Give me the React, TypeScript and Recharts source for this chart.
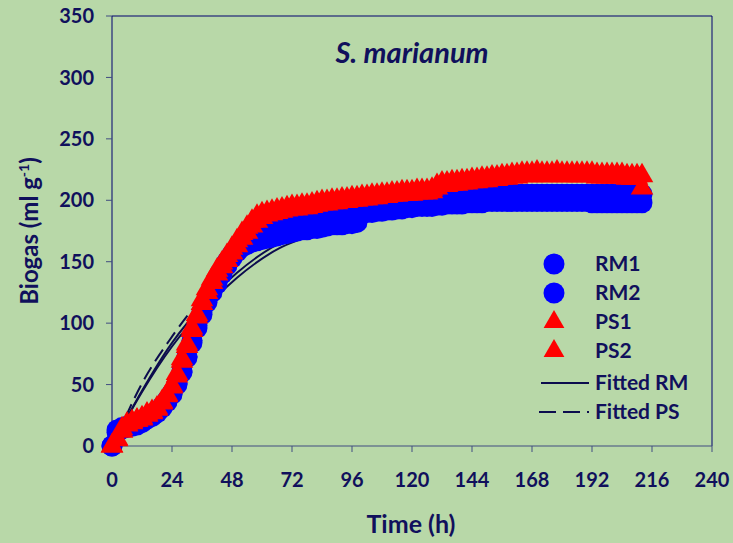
import React from 'react';
import { ComposedChart, Scatter, Line, XAxis, YAxis, ReferenceLine, Customized } from 'recharts';

// Measurement times (h), every 2 h
const hours = [
  0, 2, 4, 6, 8, 10, 12, 14, 16, 18, 20, 22, 24, 26, 28, 30, 32, 34, 36, 38, 40, 42, 44, 46, 48, 50, 52, 54, 56, 58, 60,
  62, 64, 66, 68, 70, 72, 74, 76, 78, 80,
  82, 84, 86, 88, 90, 92, 94, 96, 98, 100,
  102, 104, 106, 108, 110, 112, 114, 116, 118, 120,
  122, 124, 126, 128, 130, 132, 134, 136, 138, 140,
  142, 144, 146, 148, 150, 152, 154, 156, 158, 160,
  162, 164, 166, 168, 170, 172, 174, 176, 178, 180,
  182, 184, 186, 188, 190, 192, 194, 196, 198, 200,
  202, 204, 206, 208, 210, 212,
];

// Cumulative biogas (ml g-1)
const rm1 = [
  0, 13, 15, 16, 17, 18, 20, 23, 25, 28, 32, 37, 43, 51, 61, 73, 86, 98, 109, 119, 128, 135, 143, 150, 156, 161, 165, 168, 170, 172, 173,
  175, 176, 176, 177, 178, 179, 180, 181, 182, 183,
  184, 185, 186, 187, 188, 189, 189, 190, 191, 192,
  192, 193, 193, 194, 194, 195, 195, 196, 196, 197,
  197, 198, 198, 199, 199, 200, 200, 201, 201, 202,
  202, 203, 203, 203, 203, 204, 204, 204, 204, 205,
  205, 205, 205, 205, 205, 205, 205, 205, 205, 205,
  205, 205, 205, 205, 205, 205, 205, 205, 205, 205,
  205, 205, 205, 205, 205, 205,
];
const rm2 = [
  0, 11, 14, 15, 16, 17, 19, 22, 24, 27, 31, 36, 42, 50, 60, 72, 84, 96, 107, 117, 125, 132, 140, 147, 153, 158, 162, 164, 166, 167, 168,
  169, 170, 171, 172, 173, 174, 175, 176, 176, 177,
  177, 178, 179, 180, 180, 180, 181, 181, 182, 189,
  190, 190, 191, 191, 192, 192, 193, 193, 194, 194,
  195, 195, 195, 195, 196, 196, 197, 197, 197, 197,
  198, 198, 198, 198, 199, 199, 199, 199, 199, 199,
  199, 199, 199, 199, 199, 199, 199, 199, 199, 199,
  199, 199, 199, 199, 199, 198, 198, 198, 198, 198,
  198, 198, 198, 198, 198, 198,
];
const ps1 = [
  0, 6, 14, 18, 20, 21, 23, 26, 28, 31, 36, 42, 49, 59, 71, 83, 96, 107, 119, 128, 136, 143, 149, 155, 161, 167, 173, 178, 183, 187, 189,
  190, 191, 192, 193, 194, 195, 195, 196, 196, 197,
  198, 199, 199, 200, 200, 201, 201, 202, 202, 203,
  203, 204, 204, 205, 205, 206, 206, 207, 207, 207,
  208, 208, 208, 209, 212, 214, 214, 215, 215, 216,
  216, 217, 217, 218, 218, 219, 219, 220, 220, 221,
  221, 222, 222, 222, 223, 222, 222, 222, 223, 222,
  222, 222, 222, 222, 222, 222, 221, 221, 221, 221,
  221, 221, 220, 220, 220, 220,
];
const ps2 = [
  0, 5, 12, 17, 19, 21, 22, 25, 27, 30, 35, 41, 48, 57, 69, 81, 94, 105, 116, 125, 133, 140, 146, 151, 157, 163, 169, 174, 179, 183, 186,
  188, 189, 190, 191, 192, 193, 193, 194, 194, 195,
  196, 197, 197, 198, 198, 199, 199, 200, 200, 201,
  201, 202, 202, 203, 203, 204, 204, 205, 205, 205,
  206, 206, 206, 207, 210, 212, 212, 213, 213, 214,
  214, 215, 215, 216, 216, 217, 217, 218, 218, 219,
  219, 220, 220, 220, 221, 220, 220, 220, 221, 220,
  220, 220, 220, 220, 220, 220, 219, 219, 219, 219,
  219, 219, 218, 218, 218, 210,
];

// Fitted curves (read at selected times)
const fitHours = [2, 12, 24, 37, 50, 67, 75, 87, 100, 115, 130, 147, 170, 190, 212];
const fitRm1 = [8, 45, 84, 116, 141, 165, 171.5, 180.5, 188, 195, 200, 204, 207, 208.5, 209.5];
const fitRm2 = [8, 44, 81, 112, 137, 161, 168, 177, 185, 192, 197, 201, 204.5, 206, 207.5];
const fitPsHours = [2, 12, 24, 37, 47, 67, 75, 87, 100, 115, 130, 147, 170, 190, 212];
const fitPs = [8, 51, 89, 123, 144, 176, 184, 193, 201, 208.5, 213.5, 218.5, 222, 224.5, 226];

const xTicks = [0, 24, 48, 72, 96, 120, 144, 168, 192, 216, 240];
const yTicks = [0, 50, 100, 150, 200, 250, 300, 350];

const legendItems = [
  { label: 'RM1', kind: 'circle' },
  { label: 'RM2', kind: 'circle' },
  { label: 'PS1', kind: 'triangle' },
  { label: 'PS2', kind: 'triangle' },
  { label: 'Fitted RM', kind: 'solid' },
  { label: 'Fitted PS', kind: 'dashed' },
];

const pair = (ts: number[], vs: number[]) => ts.map((t, i) => ({ t, v: vs[i] }));

const NAVY = '#10105c';
const LINE = '#0c0c4e';
const BLUE = '#0000ff';
const RED = '#ff0000';
const FONT = 'Lato, "Open Sans", sans-serif';

const Circle = (p: any) => <circle cx={p.cx} cy={p.cy} r={10.5} fill={BLUE} />;
const Tri = (p: any) => (
  <polygon
    points={`${p.cx},${p.cy - 13} ${p.cx - 11.3},${p.cy + 6.5} ${p.cx + 11.3},${p.cy + 6.5}`}
    fill={RED}
  />
);

const Decorations = () => (
  <g fontFamily={FONT} fontWeight={700} fill={NAVY}>
    <text x={412} y={63} textAnchor="middle" fontSize={29} fontStyle="italic">S. marianum</text>
    <text x={411} y={533} textAnchor="middle" fontSize={25}>Time (h)</text>
    <text transform="translate(38,231) rotate(-90)" textAnchor="middle" fontSize={24}>
      Biogas (ml g<tspan dy={-9} fontSize={14}>-1</tspan><tspan dy={9}>)</tspan>
    </text>
    {legendItems.map((it, i) => {
      const cy = 264 + i * 29 + (i >= 4 ? 3 : 0);
      let icon: any = null;
      if (it.kind === 'circle') icon = <circle cx={554} cy={cy} r={10.5} fill={BLUE} />;
      else if (it.kind === 'triangle')
        icon = <polygon points={`554,${cy - 12} 543.6,${cy + 6} 564.4,${cy + 6}`} fill={RED} />;
      else if (it.kind === 'solid')
        icon = <line x1={541} x2={589} y1={cy} y2={cy} stroke={LINE} strokeWidth={2} />;
      else
        icon = <line x1={539} x2={589} y1={cy} y2={cy} stroke={LINE} strokeWidth={2} strokeDasharray="17 7" />;
      return (
        <g key={it.label}>
          {icon}
          <text x={595} y={cy + 7} fontSize={21}>{it.label}</text>
        </g>
      );
    })}
  </g>
);

export default function App() {
  return (
    <div style={{ position: 'absolute', left: 0, top: 0, width: 733, height: 543, background: '#b8d8a8' }}>
      <ComposedChart width={733} height={543} margin={{ top: 16, right: 21, bottom: 0, left: 0 }}>
        <XAxis
          type="number"
          dataKey="t"
          domain={[0, 240]}
          ticks={xTicks}
          height={97}
          stroke="#404c80"
          tickSize={6}
          tickMargin={21}
          tick={{ fill: NAVY, fontSize: 20, fontWeight: 700, fontFamily: FONT }}
        />
        <YAxis
          type="number"
          dataKey="v"
          domain={[0, 350]}
          ticks={yTicks}
          width={112}
          stroke="#00006e"
          tickLine={{ stroke: '#404c80' }}
          tickSize={6}
          tickMargin={12}
          tick={{ fill: NAVY, fontSize: 20, fontWeight: 700, fontFamily: FONT }}
        />
        <ReferenceLine y={350} stroke="#00006e" strokeWidth={1} />
        <ReferenceLine x={240} stroke="#00006e" strokeWidth={1} />
        <Scatter name="RM1" data={pair(hours, rm1)} dataKey="v" shape={Circle} isAnimationActive={false} />
        <Scatter name="RM2" data={pair(hours, rm2)} dataKey="v" shape={Circle} isAnimationActive={false} />
        <Scatter name="PS1" data={pair(hours, ps1)} dataKey="v" shape={Tri} isAnimationActive={false} />
        <Scatter name="PS2" data={pair(hours, ps2)} dataKey="v" shape={Tri} isAnimationActive={false} />
        <Line data={pair(fitHours, fitRm1)} dataKey="v" type="monotone" stroke={LINE} strokeWidth={2} dot={false} isAnimationActive={false} />
        <Line data={pair(fitHours, fitRm2)} dataKey="v" type="monotone" stroke={LINE} strokeWidth={2} dot={false} isAnimationActive={false} />
        <Line data={pair(fitPsHours, fitPs)} dataKey="v" type="monotone" stroke={LINE} strokeWidth={2} strokeDasharray="14 7" dot={false} isAnimationActive={false} />
        <Customized component={Decorations} />
      </ComposedChart>
    </div>
  );
}
